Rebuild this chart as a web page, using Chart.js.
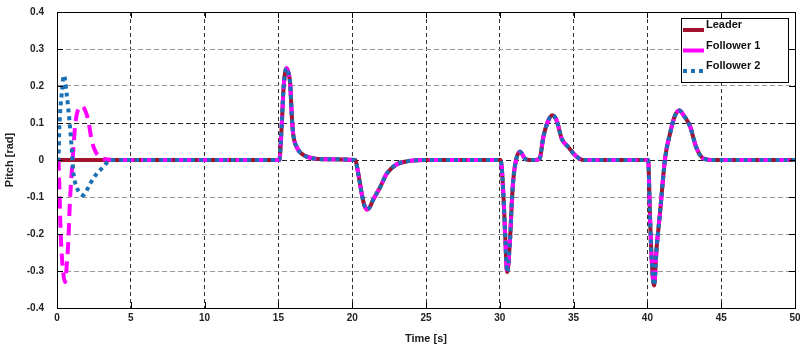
<!DOCTYPE html>
<html>
<head>
<meta charset="utf-8">
<script src="https://cdn.jsdelivr.net/npm/chart.js@4.4.1/dist/chart.umd.min.js"></script>
<style>
  html, body { margin: 0; padding: 0; background: #fff; }
  #wrap { width: 800px; height: 348px; }
</style>
</head>
<body>
<div id="wrap"><canvas id="pitchChart"></canvas></div>
<script>
// values
const seriesNames = ['Leader', 'Follower 1', 'Follower 2'];
const xTicks = [0, 5, 10, 15, 20, 25, 30, 35, 40, 45, 50];
const yTicks = [-0.4, -0.3, -0.2, -0.1, 0, 0.1, 0.2, 0.3, 0.4];

const leaderTime = [0, 15.06, 15.23, 15.34, 15.45, 15.56, 15.68, 15.8, 15.9, 16.0, 16.24, 16.58, 17.0, 18.0,
  20.2, 20.41, 20.64, 20.82, 21.0, 21.2, 21.4, 21.9, 22.34, 23.0, 23.8, 25.0,
  30.05, 30.15, 30.25, 30.35, 30.5, 30.69, 30.8, 30.9, 31.1, 31.37, 31.7, 32.0, 32.4, 32.7, 32.95, 33.2, 33.55,
  33.85, 34.19, 34.64, 35.1, 35.66,
  40.05, 40.17, 40.28, 40.45, 40.63, 40.85, 41.2, 41.53, 41.87, 42.16, 42.5, 42.9, 43.3, 43.8, 44.5, 50];
const leaderPitch = [0, 0, 0.098, 0.188, 0.235, 0.248, 0.235, 0.206, 0.125, 0.071, 0.035, 0.017, 0.008, 0.002,
  0, -0.037, -0.09, -0.122, -0.134, -0.127, -0.109, -0.073, -0.037, -0.012, -0.003, 0,
  0, -0.03, -0.1, -0.19, -0.303, -0.217, -0.127, -0.06, 0, 0.022, 0.004, 0, 0, 0.004, 0.062, 0.098, 0.121,
  0.107, 0.058, 0.035, 0.013, 0,
  0, -0.145, -0.26, -0.339, -0.235, -0.145, 0.005, 0.071, 0.12, 0.134, 0.118, 0.09, 0.035, 0.004, 0, 0];

// start-up transients of the followers (they track the leader afterwards)
const follower1StartTime = [0, 0.09, 0.16, 0.25, 0.43, 0.54, 0.65, 0.77, 0.88, 1.06, 1.22, 1.45, 1.7, 1.95, 2.12, 2.35, 2.57, 2.85, 3.3, 4.0, 5.0];
const follower1StartPitch = [0, 0, -0.073, -0.2, -0.307, -0.33, -0.29, -0.217, -0.109, 0, 0.09, 0.138, 0.145, 0.13, 0.107, 0.053, 0.026, 0.01, 0.002, 0, 0];
const follower2StartTime = [0, 0.09, 0.16, 0.32, 0.47, 0.65, 0.88, 1.0, 1.1, 1.33, 1.78, 2.24, 2.69, 3.14, 3.6, 5.0];
const follower2StartPitch = [0, 0, 0.09, 0.18, 0.229, 0.18, 0.09, 0.03, -0.03, -0.073, -0.095, -0.064, -0.037, -0.019, 0, 0];

function toPoints(times, values) {
    return times.map(function (t, i) { return { x: t, y: values[i] }; });
}

const follower1Points = toPoints(follower1StartTime, follower1StartPitch).concat(toPoints(leaderTime, leaderPitch).slice(1));
const follower2Points = toPoints(follower2StartTime, follower2StartPitch).concat(toPoints(leaderTime, leaderPitch).slice(1));

const tickFont = { family: "'Liberation Sans', Arial, sans-serif", size: 10, weight: 'bold' };
const titleFont = { family: "'Liberation Sans', Arial, sans-serif", size: 11, weight: 'bold' };

// frame with inward tick marks, like the original plot
const framePlugin = {
    id: 'frame',
    afterDraw(chart) {
        const { ctx, chartArea: a, scales } = chart;
        ctx.save();
        ctx.strokeStyle = '#000';
        ctx.lineWidth = 1;
        ctx.setLineDash([]);
        ctx.beginPath();
        xTicks.forEach(function (v) {
            const px = Math.round(scales.x.getPixelForValue(v)) + 0.5;
            ctx.moveTo(px, a.bottom); ctx.lineTo(px, a.bottom - 6);
            ctx.moveTo(px, a.top); ctx.lineTo(px, a.top + 6);
        });
        yTicks.forEach(function (v) {
            const py = Math.round(scales.y.getPixelForValue(v)) + 0.5;
            ctx.moveTo(a.left, py); ctx.lineTo(a.left + 6, py);
            ctx.moveTo(a.right, py); ctx.lineTo(a.right - 6, py);
        });
        ctx.stroke();
        ctx.strokeRect(Math.round(a.left) + 0.5, Math.round(a.top) + 0.5, Math.round(a.right - a.left), Math.round(a.bottom - a.top));
        ctx.restore();
    }
};

// boxed legend in the upper right corner
const boxLegendPlugin = {
    id: 'boxLegend',
    afterDraw(chart) {
        const { ctx, chartArea: a } = chart;
        const x0 = a.right - 114, y0 = a.top + 6, w = 107, h = 64;
        ctx.save();
        ctx.fillStyle = '#fff';
        ctx.fillRect(x0, y0, w, h);
        ctx.strokeStyle = '#000';
        ctx.lineWidth = 1;
        ctx.setLineDash([]);
        ctx.strokeRect(x0 + 0.5, y0 + 0.5, w, h);
        chart.data.datasets.forEach(function (ds, i) {
            const ly = y0 + 12 + i * 20.5;
            ctx.strokeStyle = ds.borderColor;
            ctx.lineWidth = ds.borderWidth;
            ctx.setLineDash(ds.legendDash);
            ctx.beginPath();
            ctx.moveTo(x0 + 2, ly);
            ctx.lineTo(x0 + 23, ly);
            ctx.stroke();
            ctx.setLineDash([]);
            ctx.fillStyle = '#111';
            ctx.font = "bold 11px 'Liberation Sans', Arial, sans-serif";
            ctx.textBaseline = 'middle';
            ctx.fillText(ds.label, x0 + 25, ly - 5);
        });
        ctx.restore();
    }
};

new Chart(document.getElementById('pitchChart'), {
    type: 'scatter',
    data: {
        datasets: [
            {
                label: seriesNames[0],
                data: toPoints(leaderTime, leaderPitch),
                borderColor: '#a3122d',
                borderWidth: 4,
                legendDash: [],
                order: 3
            },
            {
                label: seriesNames[1],
                data: follower1Points,
                borderColor: '#ff00ff',
                borderWidth: 4,
                borderDash: [12, 7],
                legendDash: [],
                order: 2
            },
            {
                label: seriesNames[2],
                data: follower2Points,
                borderColor: '#1a70b4',
                borderWidth: 4,
                borderDash: [4, 4],
                legendDash: [4, 4],
                order: 1
            }
        ]
    },
    options: {
        responsive: true,
        maintainAspectRatio: false,
        animation: false,
        showLine: true,
        elements: {
            point: { radius: 0, hoverRadius: 0 },
            line: { cubicInterpolationMode: 'monotone', borderCapStyle: 'butt', fill: false }
        },
        layout: { padding: { top: 12, right: 5, left: 0, bottom: 0 } },
        plugins: {
            legend: { display: false },
            tooltip: { enabled: false }
        },
        scales: {
            x: {
                type: 'linear',
                min: 0,
                max: 50,
                afterBuildTicks(scale) { scale.ticks = xTicks.map(function (v) { return { value: v }; }); },
                afterFit(scale) {
                    scale.height = 40;
                    scale.paddingLeft = 0;
                    scale.paddingRight = 0;
                },
                ticks: { color: '#222', font: tickFont, padding: 4, maxRotation: 0 },
                grid: { color: '#333', lineWidth: 1, drawTicks: false },
                border: { display: true, color: '#000', dash: [4, 3] },
                title: { display: true, text: 'Time [s]', color: '#222', font: titleFont, padding: { top: 0, bottom: 2 } }
            },
            y: {
                min: -0.4,
                max: 0.4,
                afterBuildTicks(scale) { scale.ticks = yTicks.map(function (v) { return { value: v }; }); },
                afterFit(scale) {
                    scale.width = 57;
                    scale.paddingTop = 0;
                    scale.paddingBottom = 0;
                },
                ticks: {
                    color: '#222',
                    font: tickFont,
                    padding: 13,
                    callback: function (v) { return String(Number(v.toFixed(1))); }
                },
                grid: {
                    color: function (c) {
                        const v = c.tick ? Math.round(c.tick.value * 10) : 1;
                        return (v === 0 || v === 1) ? '#222' : '#999';
                    },
                    lineWidth: 1,
                    drawTicks: false
                },
                border: { display: true, color: '#000', dash: [5, 3] },
                title: { display: true, text: 'Pitch [rad]', color: '#222', font: titleFont, padding: { top: 3, bottom: 0 } }
            }
        }
    },
    plugins: [framePlugin, boxLegendPlugin]
});
</script>
</body>
</html>
